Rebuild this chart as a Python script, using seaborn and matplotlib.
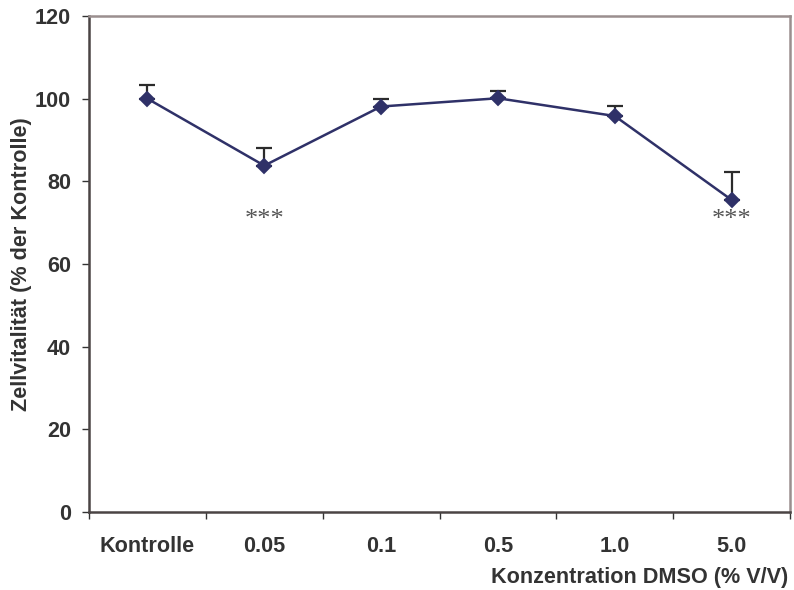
import matplotlib
matplotlib.use("Agg")
import matplotlib.pyplot as plt
import seaborn as sns
import numpy as np
import pandas as pd

categories = ["Kontrolle", "0.05", "0.1", "0.5", "1.0", "5.0"]
viability = [100.0, 83.8, 98.1, 100.1, 95.8, 75.5]
err_upper = [3.4, 4.2, 1.9, 1.8, 2.4, 6.8]
significance = ["", "***", "", "", "", "***"]

sns.set_theme(style="white")
plt.rcParams["font.family"] = ["Liberation Sans", "DejaVu Sans"]

df = pd.DataFrame({"Konzentration": categories, "Zellvitalität": viability})

fig = plt.figure(figsize=(7.94, 5.90), dpi=100)
ax = fig.add_axes([0.1121, 0.1322, 0.995 - 0.1121, 0.9729 - 0.1322])

line_color = "#2f3168"
text_color = "#333333"
fs = 15.6

pos = np.arange(len(categories))
ax.errorbar(pos, viability, yerr=[np.zeros(len(err_upper)), err_upper],
            fmt="none", ecolor="#2b2b2b", elinewidth=1.6, capsize=6.0,
            capthick=1.6, zorder=2)

sns.pointplot(data=df, x="Konzentration", y="Zellvitalität", order=categories,
              color=line_color, markers="D", markersize=7.5, linewidth=1.8,
              errorbar=None, ax=ax, zorder=3)

for i, s in enumerate(significance):
    if s:
        ax.text(i, 70.6, s, ha="center", va="center", fontsize=19,
                family=["Liberation Serif", "DejaVu Serif"], color="#555555")

ax.set_xlim(-0.5, len(categories) - 0.5)
ax.set_ylim(0, 120)
ax.set_yticks(np.arange(0, 121, 20))
ax.set_xticks(pos)
ax.set_xticks(np.arange(-0.5, len(categories), 1.0), minor=True)
ax.set_xticklabels(categories)

ax.tick_params(axis="x", which="major", length=0, pad=17, labelsize=fs,
               labelcolor=text_color)
ax.tick_params(axis="x", which="minor", length=5, width=1.0, color="#333333",
               direction="out", bottom=True)
ax.tick_params(axis="y", which="major", length=5, width=1.0, color="#333333",
               direction="out", left=True, labelsize=fs, labelcolor=text_color,
               pad=8)
for lab in ax.get_xticklabels() + ax.get_yticklabels():
    lab.set_fontweight("bold")

ax.set_xlabel("")
ax.set_ylabel("Zellvitalität (% der Kontrolle)", fontsize=fs, fontweight="bold",
              color=text_color, labelpad=2)
fig.text(0.9925, 0.0119, "Konzentration DMSO (% V/V)", ha="right", va="baseline",
         fontsize=fs, fontweight="bold", color=text_color)

for side in ["top", "right"]:
    ax.spines[side].set_color("#9a8f8f")
    ax.spines[side].set_linewidth(1.8)
for side in ["left", "bottom"]:
    ax.spines[side].set_color("#4a4444")
    ax.spines[side].set_linewidth(1.8)

fig.savefig("out.png", dpi=100)
